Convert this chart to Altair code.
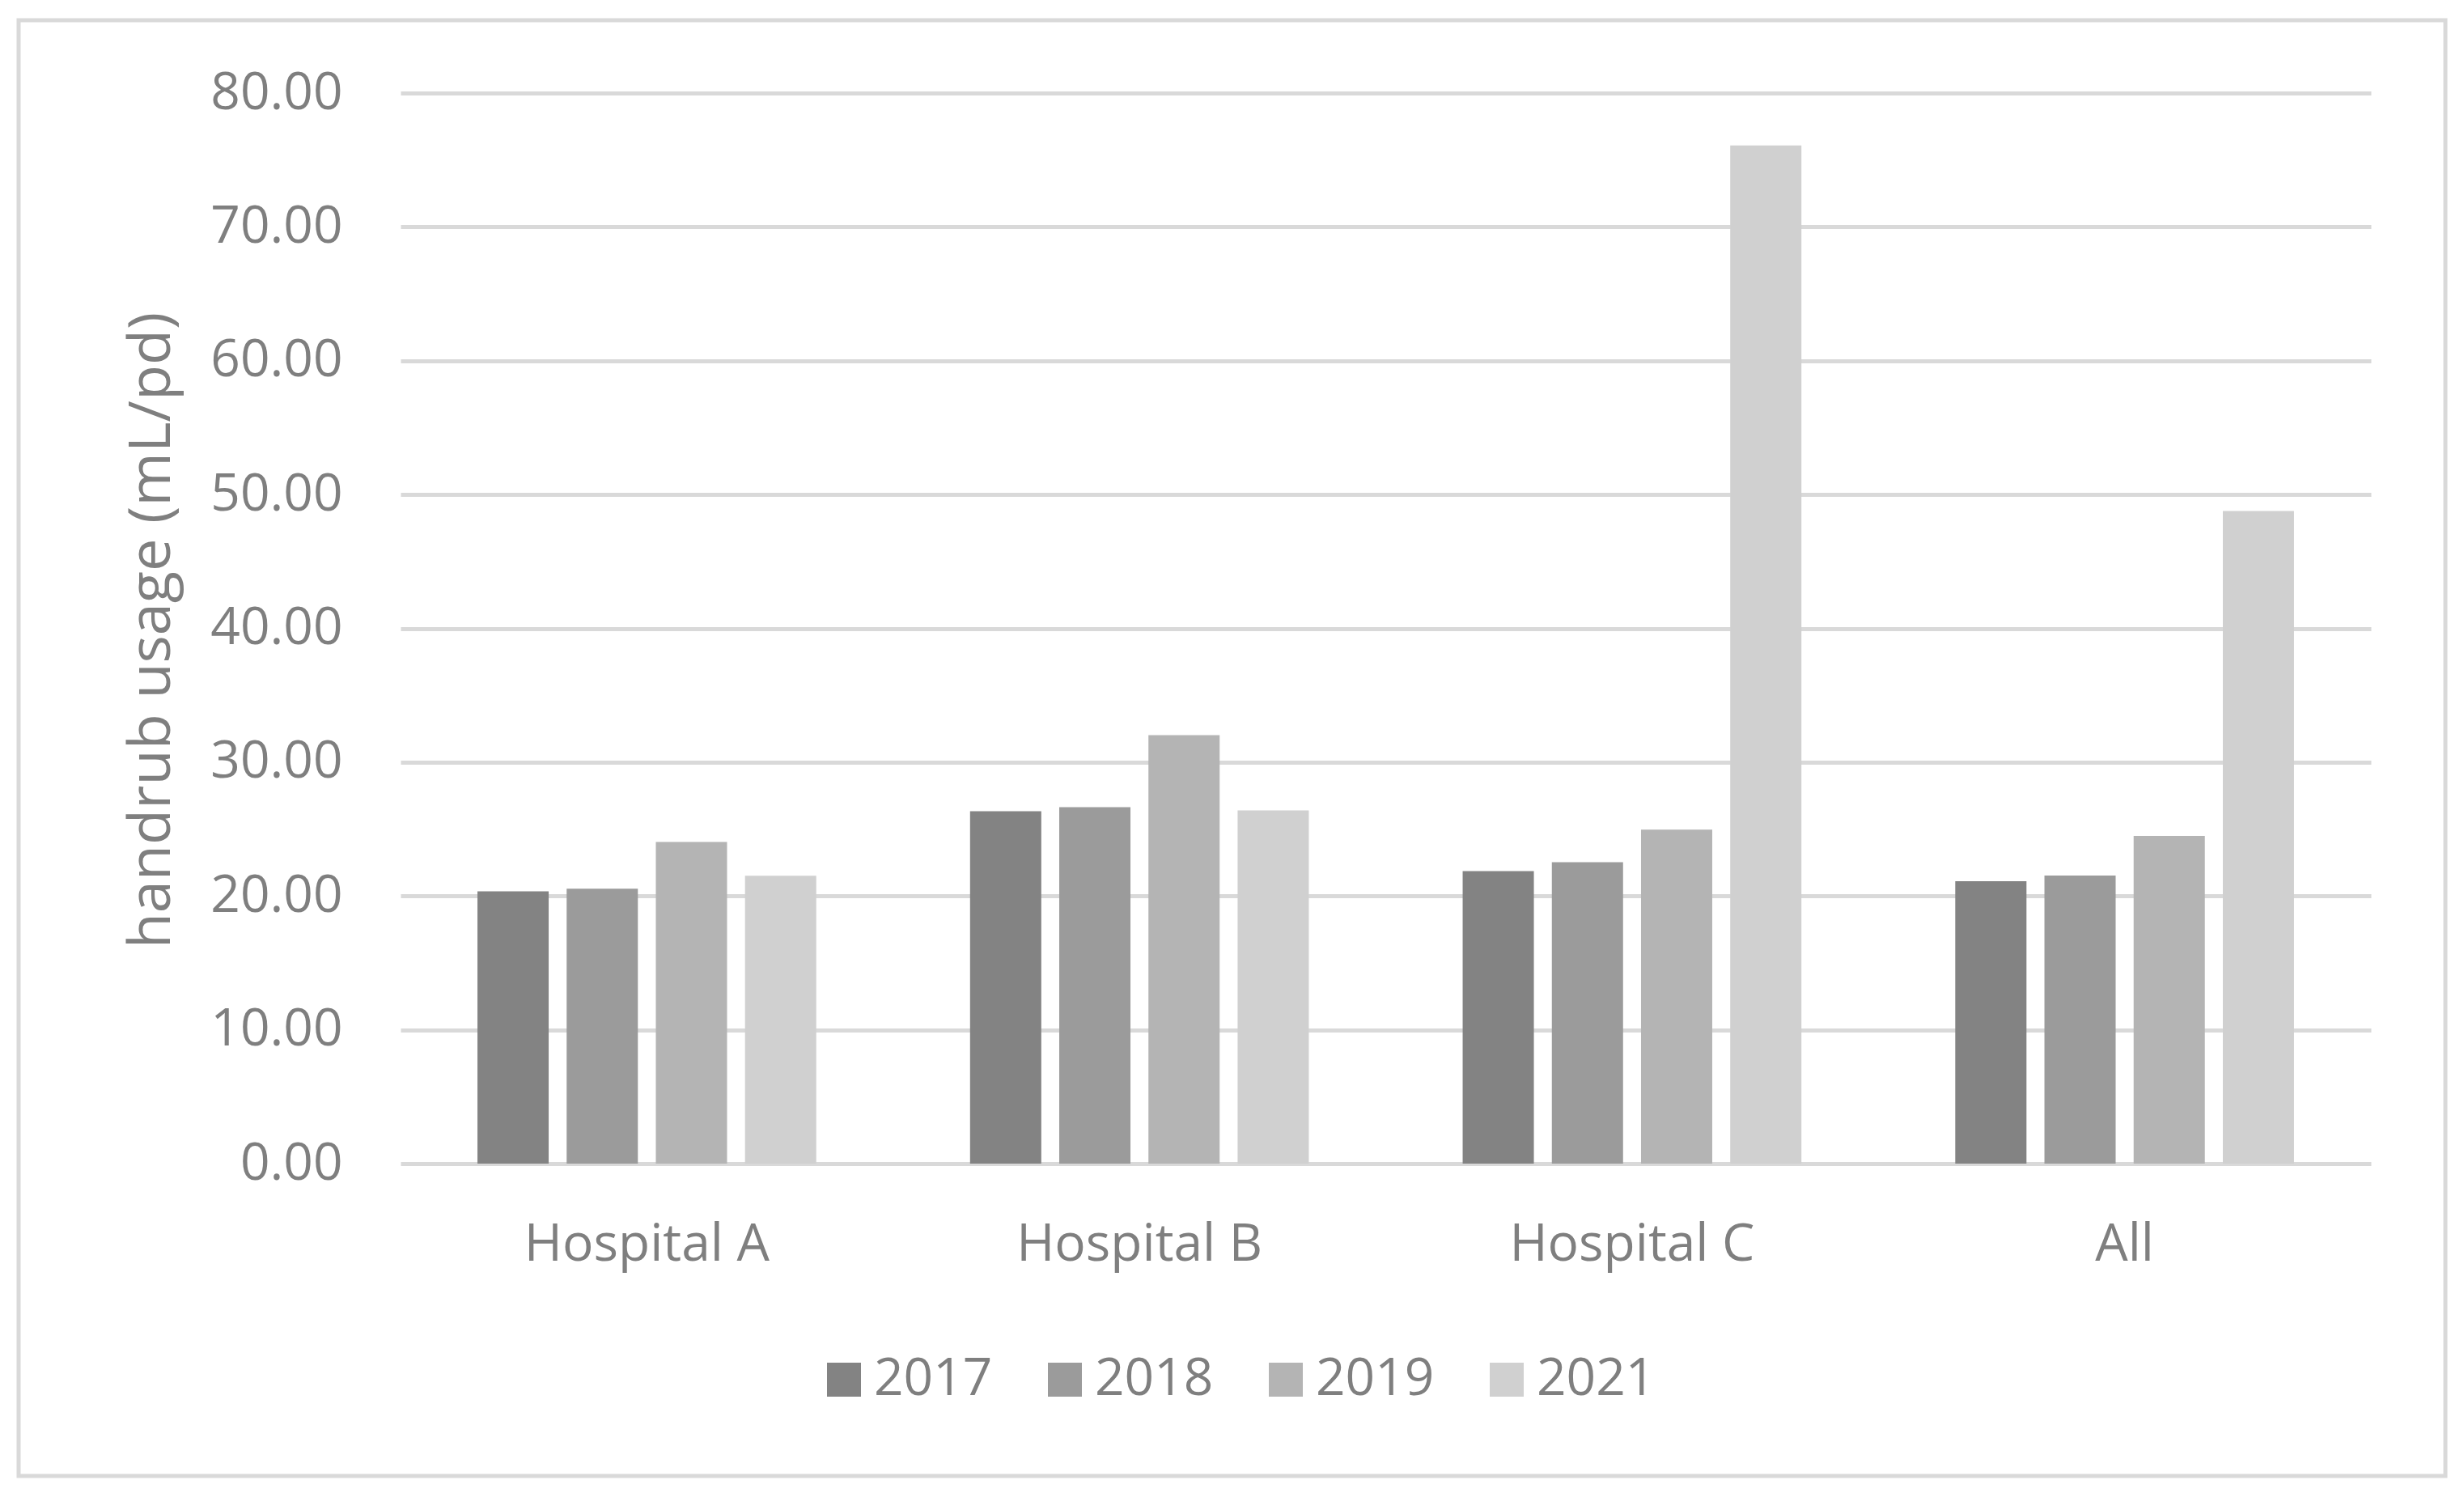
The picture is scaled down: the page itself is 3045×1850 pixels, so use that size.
import altair as alt
import pandas as pd

categories = ["Hospital A", "Hospital B", "Hospital C", "All"]
years = ["2017", "2018", "2019", "2021"]
v2017 = [20.35, 26.33, 21.86, 21.11]
v2018 = [20.54, 26.63, 22.53, 21.52]
v2019 = [24.04, 32.02, 24.96, 24.49]
v2021 = [21.51, 26.39, 76.09, 48.77]
colors = ["#838383", "#9b9b9b", "#b4b4b4", "#d0d0d0"]
y_ticks = [0, 10, 20, 30, 40, 50, 60, 70, 80]

series = {"2017": v2017, "2018": v2018, "2019": v2019, "2021": v2021}
rows = []
for yr in years:
    for cat, val in zip(categories, series[yr]):
        rows.append({"site": cat, "year": yr, "value": val})
df = pd.DataFrame(rows)

FONT = "Open Sans"
TXT = "#7f7f7f"
GRID = "#d9d9d9"
W, H = 2435, 1323

bars = alt.Chart(df).mark_bar(size=88).encode(
    x=alt.X("site:N", sort=categories,
            scale=alt.Scale(paddingInner=0.312, paddingOuter=0.156),
            axis=alt.Axis(title=None, labelAngle=0, labelFont=FONT, labelFontSize=64,
                          labelColor=TXT, labelBaseline="alphabetic", labelPadding=119,
                          labelLimit=0, ticks=False, tickSize=0, domain=False, grid=False)),
    xOffset=alt.XOffset("year:N", sort=years,
                        scale=alt.Scale(paddingInner=0.2, paddingOuter=0)),
    y=alt.Y("value:Q", scale=alt.Scale(domain=[0, 80], nice=False),
            axis=alt.Axis(title="handrub usage (mL/pd)", values=y_ticks, format=".2f",
                          labelFont=FONT, labelFontSize=64, labelColor=TXT, labelPadding=72,
                          ticks=False, tickSize=0, domain=False, grid=True,
                          gridColor=GRID, gridWidth=5,
                          titleFont=FONT, titleFontSize=72, titleFontWeight="normal",
                          titleColor=TXT, titleAngle=270, titleBaseline="middle",
                          titleAlign="center", titleX=-308, titleY=H / 2 + 2)),
    color=alt.Color("year:N", sort=years,
                    scale=alt.Scale(domain=years, range=colors),
                    legend=alt.Legend(title=None, orient="none", direction="horizontal",
                                      legendX=516, legendY=1558, symbolType="square",
                                      symbolSize=1764, symbolStrokeWidth=0,
                                      labelFont=FONT, labelFontSize=64, labelColor=TXT,
                                      labelOffset=5, columnPadding=57, padding=0)),
)

frame = alt.Chart(alt.Data(values=[{}])).mark_rect(
    fill=None, stroke=GRID, strokeWidth=5
).encode(
    x=alt.value(-472), x2=alt.value(2527), y=alt.value(-90), y2=alt.value(1709)
)

chart = alt.layer(frame, bars).properties(
    width=W, height=H,
    autosize=alt.AutoSizeParams(type="none"),
    padding={"left": 487, "top": 107, "right": 107, "bottom": 404},
    background="white",
).configure_view(stroke=None)

chart.save("out.html", embed_options={"renderer": "svg", "actions": False})
